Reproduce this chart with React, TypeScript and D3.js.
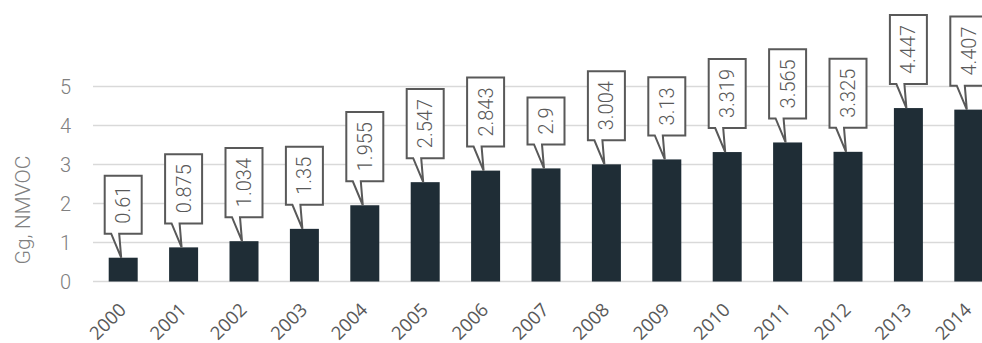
import React, { useEffect, useRef } from "react";
import * as d3 from "d3";

const years = ["2000","2001","2002","2003","2004","2005","2006","2007","2008","2009","2010","2011","2012","2013","2014"];
const values = [0.61,0.875,1.034,1.35,1.955,2.547,2.843,2.9,3.004,3.13,3.319,3.565,3.325,4.447,4.407];
const yTicks = [0,1,2,3,4,5];
const yLabel = "Gg, NMVOC";

const W = 982, H = 343;
const LIGHT = "Roboto, 'Open Sans', sans-serif";

export default function App() {
  const ref = useRef<SVGSVGElement>(null);
  useEffect(() => {
    const svg = d3.select(ref.current);
    svg.selectAll("*").remove();
    const x = d3.scaleBand().domain(years).range([93, 999]).paddingInner(0.52).paddingOuter(0.26);
    const y = d3.scaleLinear().domain([0, 5]).range([281.5, 86.5]);

    svg.append("g").selectAll("line").data(yTicks).join("line")
      .attr("x1", 93).attr("x2", W).attr("y1", d => y(d)).attr("y2", d => y(d))
      .attr("stroke", "#d9d9d9").attr("stroke-width", 1.5);

    svg.append("g").selectAll("text").data(yTicks).join("text")
      .attr("x", 71).attr("y", d => y(d)).attr("dy", "0.36em").attr("text-anchor", "end")
      .attr("font-family", LIGHT).attr("font-weight", 300)
      .attr("font-size", 20).attr("fill", "#808080").text(d => d);

    svg.append("text").attr("transform", "translate(30,210) rotate(-90)")
      .attr("text-anchor", "middle")
      .attr("font-family", LIGHT).attr("font-weight", 300)
      .attr("font-size", 21).attr("fill", "#808080").text(yLabel);

    svg.append("g").selectAll("rect").data(values).join("rect")
      .attr("x", (d, i) => x(years[i])!).attr("width", x.bandwidth())
      .attr("y", d => y(d)).attr("height", d => y(0) - y(d)).attr("fill", "#1f2d36");

    svg.append("g").selectAll("text").data(years).join("text")
      .attr("transform", d => `translate(${x(d)! + x.bandwidth() / 2 + 4},${311}) rotate(-45)`)
      .attr("text-anchor", "end")
      .attr("font-family", "'Open Sans', sans-serif")
      .attr("font-size", 18.5).attr("fill", "#595959").text(d => d);

    const g = svg.append("g");
    values.forEach((v, i) => {
      const cx = x(years[i])! + x.bandwidth() / 2;
      const top = y(v);
      const cg = g.append("g");
      const t = cg.append("text")
        .attr("font-family", LIGHT).attr("font-weight", 300)
        .attr("font-size", 20).attr("fill", "#595959").attr("text-anchor", "middle")
        .text(String(v));
      const len = (t.node() as SVGTextElement).getComputedTextLength();
      const bw = 37;
      const bh = len + 20;
      const bottom = top - 24;
      const left = cx - bw / 2;
      const right = cx + bw / 2;
      const tp = bottom - bh;
      const path = `M${left},${tp}H${right}V${bottom}H${cx - 4}L${cx - 2},${top}L${cx - 12},${bottom}H${left}Z`;
      cg.insert("path", "text").attr("d", path).attr("fill", "#fff")
        .attr("stroke", "#595959").attr("stroke-width", 2).attr("stroke-linejoin", "miter");
      t.attr("transform", `translate(${cx},${bottom - bh / 2}) rotate(-90)`).attr("dy", "0.35em");
    });
  }, []);
  return <svg ref={ref} width={W} height={H} style={{ position: "absolute", left: 0, top: 0, background: "#fff" }} />;
}
